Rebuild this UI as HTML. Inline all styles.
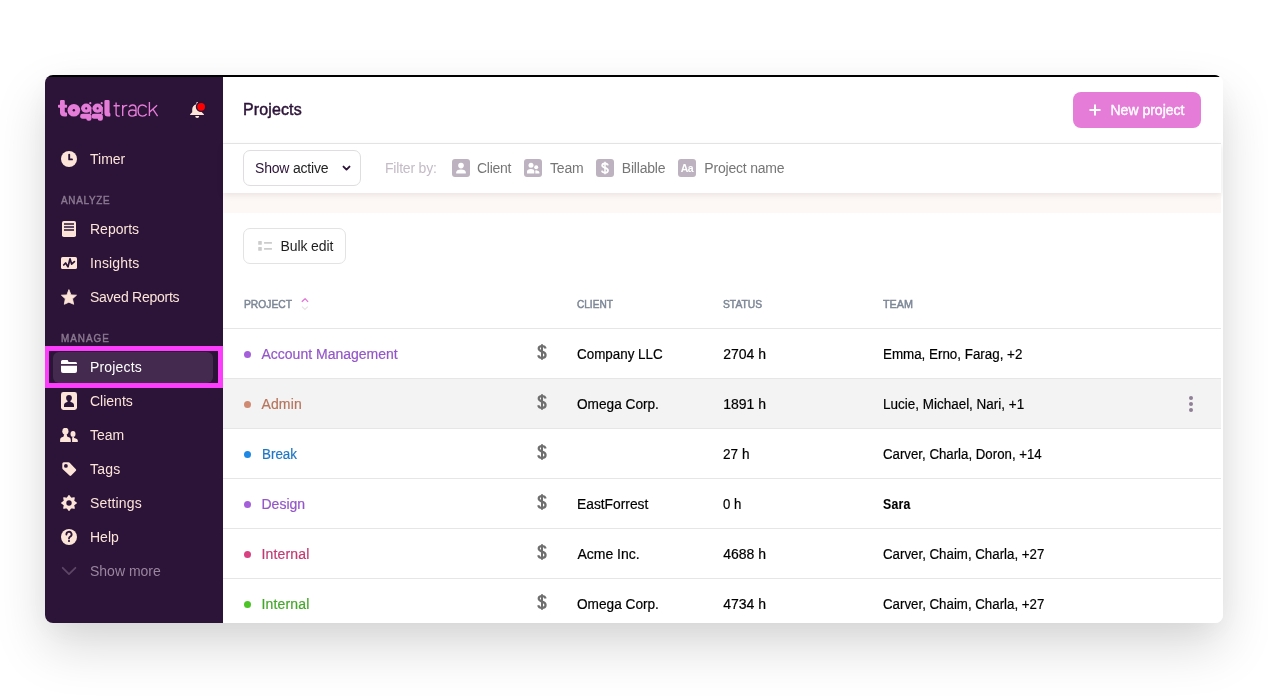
<!DOCTYPE html>
<html><head><meta charset="utf-8">
<style>
*{box-sizing:border-box;margin:0;padding:0}
html,body{width:1268px;height:698px;overflow:hidden;background:#fff;font-family:"Liberation Sans",sans-serif}
.win{will-change:transform;position:absolute;left:45px;top:75px;width:1178px;height:548px;border-radius:8px;overflow:hidden;background:#fff;box-shadow:0 24px 52px rgba(0,0,0,0.15),0 8px 34px rgba(0,0,0,0.045)}
.side{position:absolute;left:0;top:2px;width:178px;height:546px;background:#2C1338}
.main{position:absolute;left:178px;top:2px;width:1000px;height:546px;background:#fff}
.abs{position:absolute}
.nav{position:absolute;left:45px;font-size:14px;color:#FCE5D8;white-space:nowrap;line-height:16px}
.sec{position:absolute;left:16px;font-size:11px;font-weight:400;-webkit-text-stroke:0.45px #8A7890;color:#8A7890;line-height:12px;transform:scaleX(0.9);transform-origin:0 0;white-space:nowrap}
.ico{position:absolute;left:16px}
.th{position:absolute;top:221px;font-size:11px;font-weight:400;-webkit-text-stroke:0.5px #7D8796;color:#7D8796;line-height:12px;letter-spacing:0;transform-origin:0 0;white-space:nowrap}
.row{position:absolute;left:0;width:998px;height:50px;border-top:1px solid #E6E6E6}
.row .t{position:absolute;top:17px;font-size:14px;line-height:16px;color:#000;white-space:nowrap;-webkit-text-stroke:0.2px currentColor}
.row .dot{position:absolute;left:21px;top:22px;width:7px;height:7px;border-radius:50%}
.row .usd{position:absolute;left:314px;top:15px}
.fl{top:83px;font-size:14px;color:#767676;line-height:16px;letter-spacing:-0.2px}
</style></head><body>
<svg width="0" height="0" style="position:absolute"><defs><g id="usd"><path d="M8.6 4.6C8.2 2.8 6.8 2 5 2C3 2 1.7 3.1 1.7 4.6C1.7 6.3 3.2 6.9 5 7.6C7 8.3 8.6 9 8.6 11C8.6 12.8 7 13.9 5 13.9C3 13.9 1.6 12.9 1.2 11.2" fill="none" stroke="#6F6F6F" stroke-width="2.2"/><path d="M5 0.3V15.7" stroke="#6F6F6F" stroke-width="2"/></g></defs></svg>
<div class="win">
  <div style="position:absolute;left:0;top:0;width:1175px;height:2px;background:#000;clip-path:polygon(0 0,1172px 0,1175px 2px,0 2px);z-index:5"></div>
  <div class="side">
    <!-- logo -->
    <svg class="abs" style="left:10px;top:20px" width="155" height="30" viewBox="55 97 155 30">
      <g fill="#E57CD8">
        <path d="M60,101.2 Q60,100.1 61.1,100.1 H63.7 Q64.8,100.1 64.8,101.2 V104.7 H66.3 Q67.1,104.7 67.1,105.5 V107 Q67.1,107.7 66.3,107.7 H64.8 V111.6 Q64.8,112.6 65.8,112.6 H66.2 Q67.1,112.6 67.1,113.5 V115.6 Q67.1,116.6 66,116.6 H64.5 Q60,116.6 60,112.5 V107.7 H58.8 Q58,107.7 58,107 V105.5 Q58,104.7 58.8,104.7 H60 Z"/>
        <circle cx="73.85" cy="110.2" r="6.3"/>
        <g transform="translate(0,0)"><ellipse cx="86.15" cy="108.2" rx="5.1" ry="4.65"/><circle cx="90.3" cy="103.2" r="1.1"/><rect x="89.8" y="107" width="1.6" height="7"/>
        <path d="M80.1,116.2 Q80.1,113.8 82.6,113.8 H88.8 Q91.5,113.6 91.5,117 V118.4 Q91.5,120.8 89.3,120.8 H88.4 Q86.3,120.8 86.3,118.8 H82.6 Q80.1,118.8 80.1,116.1 Z"/></g>
        <g transform="translate(11.4,0)"><ellipse cx="86.15" cy="108.2" rx="5.1" ry="4.65"/><circle cx="90.3" cy="103.2" r="1.1"/><rect x="89.8" y="107" width="1.6" height="7"/>
        <path d="M80.1,116.2 Q80.1,113.8 82.6,113.8 H88.8 Q91.5,113.6 91.5,117 V118.4 Q91.5,120.8 89.3,120.8 H88.4 Q86.3,120.8 86.3,118.8 H82.6 Q80.1,118.8 80.1,116.1 Z"/></g>
        <path d="M104.4,101.3 Q104.4,100.1 105.6,100.1 H108.4 Q109.6,100.1 109.6,101.3 V112.5 Q110.4,113 110.4,114 V115.4 Q110.4,116.6 109.2,116.6 H107.8 Q104.4,116.6 104.4,113 Z"/>
      </g>
      <g fill="#2C1338"><circle cx="73.85" cy="110.2" r="1.2"/><circle cx="86.2" cy="108.4" r="1.05"/><circle cx="97.6" cy="108.4" r="1.05"/></g>
      <g fill="none" stroke="#E57CD8" stroke-width="1.35" transform="translate(-0.5,0)">
        <path d="M116.6,102.6 V113.8 Q116.6,116.1 118.8,116.1 H120.3 M114,105.7 H120.3"/>
        <path d="M123.2,105 V116.1 M123.2,110 Q123.2,105.4 127.8,105.4"/>
        <path d="M129.6,107 Q131,105 133,105 Q136.5,105 136.5,108.8 V116.1 M136.5,111.2 Q135.8,110 132.8,110 Q129.2,110 129.2,113.05 Q129.2,116.1 132.6,116.1 Q136.5,116.1 136.5,112.6"/>
        <path d="M147.2,107.3 Q145.7,105 142.9,105 Q138.6,105 138.6,110.55 Q138.6,116.1 142.9,116.1 Q145.7,116.1 147.2,113.8"/>
        <path d="M149.9,101.9 V116.1 M157.6,105.2 L150.2,112 M153.4,109.2 L158.1,116.1"/>
      </g>
    </svg>
    <!-- bell -->
    <svg class="abs" style="left:140px;top:20px" width="30" height="30" viewBox="185 97 30 30">
      <path d="M196.4,102.6 Q196.4,101.9 197.2,101.9 Q198,101.9 198,102.6 V104.3 C200.6,104.9 201.8,107 201.8,109.6 V112.3 L203.9,114.2 V115 H190.1 V114.2 L192.2,112.3 V109.6 C192.2,107 193.6,104.9 196.4,104.3 Z" fill="#FCE5D8"/>
      <path d="M195.2,115.9 H199.2 A2,2 0 0 1 195.2,115.9 Z" fill="#FCE5D8"/>
      <circle cx="201.1" cy="106.8" r="5.3" fill="#2C1338"/>
      <circle cx="201.1" cy="106.8" r="3.9" fill="#FF0000"/>
    </svg>
    <!-- Timer -->
    <svg class="ico" style="top:74px" width="16" height="16" viewBox="0 0 16 16"><circle cx="8" cy="8" r="8" fill="#FCE5D8"/><path d="M8.2 3.6V8.4H11" fill="none" stroke="#2C1338" stroke-width="1.9" stroke-linecap="round" stroke-linejoin="round"/></svg>
    <div class="nav" style="top:74px">Timer</div>
    <div class="sec" style="top:117px;letter-spacing:0.8px">ANALYZE</div>
    <svg class="ico" style="left:17px;top:144px" width="14" height="16" viewBox="0 0 14 16"><rect width="14" height="16" rx="1.8" fill="#FCE5D8"/><path d="M2 2.9h10M2 6h10M2 9h10" stroke="#2C1338" stroke-width="1.5"/></svg>
    <div class="nav" style="top:144px">Reports</div>
    <svg class="ico" style="top:180px" width="16" height="12" viewBox="0 0 16 12"><rect width="16" height="12" rx="1.6" fill="#FCE5D8"/><path d="M2.7 8L4.6 6L7 9.9L9 1.8L10.6 7.1L13.4 4.6" fill="none" stroke="#2C1338" stroke-width="1.7" stroke-linejoin="round" stroke-linecap="round"/></svg>
    <div class="nav" style="top:178px;letter-spacing:0.14px">Insights</div>
    <svg class="ico" style="top:212px" width="16" height="16" viewBox="0 0 16 16"><path d="M7.9 0.6L10 5.9L15.5 6.2L11.5 9.8L12.7 15.3L7.9 13.2L3.3 15.3L4.3 9.8L0.4 6.2L5.9 5.9Z" fill="#FCE5D8" stroke="#FCE5D8" stroke-width="0.8" stroke-linejoin="round"/></svg>
    <div class="nav" style="top:212px;letter-spacing:-0.25px">Saved Reports</div>
    <div class="sec" style="top:255px;letter-spacing:1.1px">MANAGE</div>
    <div class="abs" style="left:8px;top:274.5px;width:160px;height:31px;border-radius:6px;background:#442A4F"></div>
    <svg class="ico" style="top:283px" width="16" height="13" viewBox="0 0 16 13"><path d="M0 1.6Q0 0 1.6 0H6.6L7.6 2H14.2Q16 2 16 3.4V4H0Z" fill="#fff"/><path d="M0 5.8H16V11Q16 13 14 13H2Q0 13 0 11Z" fill="#fff"/></svg>
    <div class="nav" style="top:282px;color:#fff;letter-spacing:0.18px">Projects</div>
    <svg class="ico" style="top:315px" width="16" height="18" viewBox="0 0 16 18"><rect width="16" height="18" rx="2.4" fill="#FCE5D8"/><ellipse cx="8" cy="6.1" rx="2.9" ry="3.1" fill="#2C1338"/><path d="M3 15V13.4Q3 10.7 6.3 10.1L7 8.6H9L9.7 10.1Q13 10.7 13 13.4V15Z" fill="#2C1338"/></svg>
    <div class="nav" style="top:316px">Clients</div>
    <svg class="ico" style="left:15px;top:351px" width="18" height="14" viewBox="0 0 18 14"><ellipse cx="5.4" cy="3.2" rx="3.1" ry="3.4" fill="#FCE5D8"/><path d="M0.1 14V12Q0.1 9.3 3.4 8.7L4.3 6H6.5L7.4 8.7Q10.8 9.3 10.8 12V14Z" fill="#FCE5D8"/><ellipse cx="13" cy="5.9" rx="2.5" ry="2.9" fill="#FCE5D8"/><path d="M12.1 14V10.6Q12.2 9.4 12.6 8.4H13.6L14.2 9.9Q17.8 10.6 17.8 12.4V14Z" fill="#FCE5D8"/></svg>
    <div class="nav" style="top:350px">Team</div>
    <svg class="ico" style="left:17px;top:385px" width="15" height="15" viewBox="0 0 15 15"><path d="M0.3 1.8Q0.3 0.3 1.8 0.3H6.5Q7.2 0.3 7.7 0.8L13.9 7.2Q14.6 8 13.9 8.8L9.2 13.5Q8.3 14.3 7.5 13.5L0.8 7.2Q0.3 6.7 0.3 6Z" fill="#FCE5D8"/><circle cx="3.9" cy="3.9" r="1.9" fill="#2C1338"/></svg>
    <div class="nav" style="top:384px;letter-spacing:0.23px">Tags</div>
    <svg class="ico" style="top:418px" width="16" height="16" viewBox="0 0 16 16"><circle cx="8" cy="8" r="5.6" fill="#FCE5D8"/><path d="M8.00,0.70 L9.88,3.47 L13.16,2.84 L12.53,6.12 L15.30,8.00 L12.53,9.88 L13.16,13.16 L9.88,12.53 L8.00,15.30 L6.12,12.53 L2.84,13.16 L3.47,9.88 L0.70,8.00 L3.47,6.12 L2.84,2.84 L6.12,3.47Z" fill="#FCE5D8" stroke="#FCE5D8" stroke-width="1.3" stroke-linejoin="round"/><circle cx="8" cy="8" r="2.7" fill="#2C1338"/></svg>
    <div class="nav" style="top:418px;letter-spacing:0.15px">Settings</div>
    <svg class="ico" style="top:452px" width="16" height="16" viewBox="0 0 16 16"><circle cx="8" cy="8" r="8" fill="#FCE5D8"/><path d="M5.4 5.6A2.6 2.6 0 1 1 9.3 7.6Q8 8.4 8 9.6" fill="none" stroke="#2C1338" stroke-width="1.8" stroke-linecap="round"/><rect x="7.1" y="11.1" width="1.8" height="1.8" fill="#2C1338"/></svg>
    <div class="nav" style="top:452px">Help</div>
    <svg class="ico" style="top:489px" width="16" height="10" viewBox="0 0 16 10"><path d="M1.7 1.8L8 8.1L14.4 1.8" fill="none" stroke="#5D4566" stroke-width="1.8" stroke-linecap="round" stroke-linejoin="round"/></svg>
    <div class="nav" style="top:486px;color:#9A869F">Show more</div>
    <!-- highlight box -->
    <div class="abs" style="left:0;top:269px;width:178px;height:42px;border:5px solid #FC3DFC;border-left-width:4px"></div>
  </div>
  <div class="main">
    <div class="abs" style="left:20px;top:24.3px;font-size:16px;font-weight:400;-webkit-text-stroke:0.45px #2C1338;color:#2C1338;letter-spacing:0.12px;line-height:18px">Projects</div>
    <!-- new project -->
    <div class="abs" style="left:850px;top:15px;width:128px;height:36px;border-radius:8px;background:#E57CD8"></div>
    <svg class="abs" style="left:866px;top:27px" width="12" height="12" viewBox="0 0 12 12"><path d="M6 0.5V11.5M0.5 6H11.5" stroke="#fff" stroke-width="2"/></svg>
    <div class="abs" style="left:887.5px;top:25px;font-size:14px;font-weight:400;-webkit-text-stroke:0.4px #fff;color:#fff;line-height:16px;letter-spacing:0px">New project</div>
    <!-- separator -->
    <div class="abs" style="left:0;top:66px;width:998px;height:1px;background:#E8E8E8"></div>
    <!-- filter bar shadow + band -->
    <div class="abs" style="left:0;top:116px;width:998px;height:20px;background:#FDF8F6"></div>
    <div class="abs" style="left:0;top:67px;width:998px;height:49px;background:#fff;box-shadow:0 2px 6px rgba(60,30,40,0.10)"></div>
    <div class="abs" style="left:20px;top:73px;width:118px;height:36px;border:1px solid #E0DDE0;border-radius:7px"></div>
    <div class="abs" style="left:32px;top:83px;font-size:14px;color:#2C1338;line-height:16px;letter-spacing:-0.2px">Show <span style="color:#232323">active</span></div>
    <svg class="abs" style="left:118.5px;top:87.5px" width="9" height="7" viewBox="0 0 9 7"><path d="M1.5 1.6L4.5 4.6L7.5 1.6" fill="none" stroke="#2C1338" stroke-width="1.9" stroke-linecap="round" stroke-linejoin="round"/></svg>
    <div class="abs" style="left:162px;top:83px;font-size:14px;color:#C4BBC6;line-height:16px;letter-spacing:-0.2px">Filter by:</div>
    <!-- filter chips -->
    <svg class="abs" style="left:229px;top:82px" width="18" height="18" viewBox="0 0 18 18"><rect width="18" height="18" rx="3" fill="#BDB3C0"/><circle cx="9" cy="6.6" r="2.8" fill="#fff"/><path d="M4.2 14.5V13.4Q4.2 10.5 9 10.5Q13.8 10.5 13.8 13.4V14.5Z" fill="#fff"/></svg>
    <div class="abs fl" style="left:254px;letter-spacing:-0.26px">Client</div>
    <svg class="abs" style="left:301px;top:82px" width="18" height="18" viewBox="0 0 18 18"><rect width="18" height="18" rx="3" fill="#BDB3C0"/><circle cx="7" cy="6.2" r="2.5" fill="#fff"/><path d="M3 14.5V12.8Q3 10 7 10Q10 10 10.3 12.2V14.5Z" fill="#fff"/><circle cx="12.2" cy="8.2" r="2" fill="#fff"/><path d="M11.3 14.5V11.4Q12.2 11.2 13 11.4Q15.4 11.9 15.4 13.3V14.5Z" fill="#fff"/></svg>
    <div class="abs fl" style="left:327px">Team</div>
    <svg class="abs" style="left:373px;top:82px" width="18" height="18" viewBox="0 0 18 18"><rect width="18" height="18" rx="3" fill="#BDB3C0"/><path d="M11.9 6.4C11.6 5.1 10.6 4.5 9 4.5C7.3 4.5 6.2 5.3 6.2 6.5C6.2 7.8 7.4 8.3 9 8.8C10.7 9.3 12 9.9 12 11.4C12 12.8 10.7 13.6 9 13.6C7.3 13.6 6.1 12.9 5.9 11.6" fill="none" stroke="#fff" stroke-width="1.8"/><path d="M9 2.8V15.2" stroke="#fff" stroke-width="1.5"/></svg>
    <div class="abs fl" style="left:398.8px">Billable</div>
    <svg class="abs" style="left:455px;top:82px" width="18" height="18" viewBox="0 0 18 18"><rect width="18" height="18" rx="3" fill="#BDB3C0"/><text x="9" y="13" text-anchor="middle" font-family="Liberation Sans" font-weight="700" font-size="10.5" fill="#fff" letter-spacing="-0.4">Aa</text></svg>
    <div class="abs fl" style="left:481.3px">Project name</div>
    <!-- bulk edit -->
    <div class="abs" style="left:20px;top:151px;width:103px;height:36px;border:1px solid #E3E3E3;border-radius:7px"></div>
    <svg class="abs" style="left:35px;top:164px" width="14" height="10" viewBox="0 0 14 10"><rect x="0.2" y="0" width="3.6" height="3.8" rx="0.6" fill="#CCC"/><rect x="0.2" y="6" width="3.6" height="3.8" rx="0.6" fill="#CCC"/><rect x="6" y="1" width="8" height="1.8" rx="0.5" fill="#CCC"/><rect x="6" y="7" width="8" height="1.8" rx="0.5" fill="#CCC"/></svg>
    <div class="abs" style="left:57.5px;top:161px;font-size:14px;color:#1E1E1E;line-height:16px;letter-spacing:-0.1px">Bulk edit</div>
    <!-- table header -->
    <div class="th" style="left:20.5px;transform:scaleX(0.935)">PROJECT</div>
    <svg class="abs" style="left:78px;top:221px" width="9" height="13" viewBox="0 0 9 13"><path d="M0.8 3.8L4.1 0.7L7.1 3.8" fill="none" stroke="#E36FD6" stroke-width="1.2"/><path d="M1 8.6L3.95 11.4L6.8 8.6" fill="none" stroke="#E6E1E6" stroke-width="1.2"/></svg>
    <div class="th" style="left:354.4px;transform:scaleX(0.915)">CLIENT</div>
    <div class="th" style="left:500.2px;transform:scaleX(0.935)">STATUS</div>
    <div class="th" style="left:660.3px;transform:scaleX(0.98)">TEAM</div>
    <!-- rows -->
    <div class="row" style="top:251px">
      <div class="dot" style="background:#A55FDB"></div><div class="t" style="left:38.5px;color:#9456C8">Account Management</div>
      <svg class="usd" viewBox="0 0 10 16" width="10" height="16"><use href="#usd"/></svg>
      <div class="t" style="left:354.4px;transform:scaleX(0.9574);transform-origin:0 0">Company LLC</div><div class="t" style="left:500.2px">2704 h</div><div class="t" style="left:660.3px;transform:scaleX(0.9549);transform-origin:0 0">Emma, Erno, Farag, +2</div>
    </div>
    <div class="row" style="top:301px;background:#F3F3F3">
      <div class="dot" style="background:#D08A72"></div><div class="t" style="left:38.5px;color:#B7755E;letter-spacing:0.12px">Admin</div>
      <svg class="usd" viewBox="0 0 10 16" width="10" height="16"><use href="#usd"/></svg>
      <div class="t" style="left:354.4px;transform:scaleX(0.9748);transform-origin:0 0">Omega Corp.</div><div class="t" style="left:500.2px">1891 h</div><div class="t" style="left:660.3px;transform:scaleX(0.9624);transform-origin:0 0">Lucie, Michael, Nari, +1</div>
      <svg class="abs" style="left:965.9px;top:16.8px" width="4" height="20" viewBox="0 0 4 20"><circle cx="2" cy="2" r="2" fill="#8E8095"/><circle cx="2" cy="8" r="2" fill="#8E8095"/><circle cx="2" cy="14" r="2" fill="#8E8095"/></svg>
    </div>
    <div class="row" style="top:351px">
      <div class="dot" style="background:#1E88E5"></div><div class="t" style="left:38.5px;color:#1F77C4;transform:scaleX(0.9558);transform-origin:0 0">Break</div>
      <svg class="usd" viewBox="0 0 10 16" width="10" height="16"><use href="#usd"/></svg>
      <div class="t" style="left:500.2px;transform:scaleX(0.9706);transform-origin:0 0">27 h</div><div class="t" style="left:660.3px;transform:scaleX(0.9465);transform-origin:0 0">Carver, Charla, Doron, +14</div>
    </div>
    <div class="row" style="top:401px">
      <div class="dot" style="background:#A55FDB"></div><div class="t" style="left:38.5px;color:#9456C8">Design</div>
      <svg class="usd" viewBox="0 0 10 16" width="10" height="16"><use href="#usd"/></svg>
      <div class="t" style="left:354.4px;transform:scaleX(0.9861);transform-origin:0 0">EastForrest</div><div class="t" style="left:500.2px;transform:scaleX(0.9427);transform-origin:0 0">0 h</div><div class="t" style="left:660.3px;font-weight:700;letter-spacing:0.2px;-webkit-text-stroke:0.1px #000;transform:scaleX(0.88);transform-origin:0 0">Sara</div>
    </div>
    <div class="row" style="top:451px">
      <div class="dot" style="background:#D94182"></div><div class="t" style="left:38.5px;color:#C03A73;letter-spacing:0.17px">Internal</div>
      <svg class="usd" viewBox="0 0 10 16" width="10" height="16"><use href="#usd"/></svg>
      <div class="t" style="left:354.4px">Acme Inc.</div><div class="t" style="left:500.2px">4688 h</div><div class="t" style="left:660.3px;transform:scaleX(0.9489);transform-origin:0 0">Carver, Chaim, Charla, +27</div>
    </div>
    <div class="row" style="top:501px">
      <div class="dot" style="background:#4BC425"></div><div class="t" style="left:38.5px;color:#45A72A;letter-spacing:0.17px">Internal</div>
      <svg class="usd" viewBox="0 0 10 16" width="10" height="16"><use href="#usd"/></svg>
      <div class="t" style="left:354.4px;transform:scaleX(0.9748);transform-origin:0 0">Omega Corp.</div><div class="t" style="left:500.2px">4734 h</div><div class="t" style="left:660.3px;transform:scaleX(0.9489);transform-origin:0 0">Carver, Chaim, Charla, +27</div>
    </div>
  </div>
</div>
</body></html>
